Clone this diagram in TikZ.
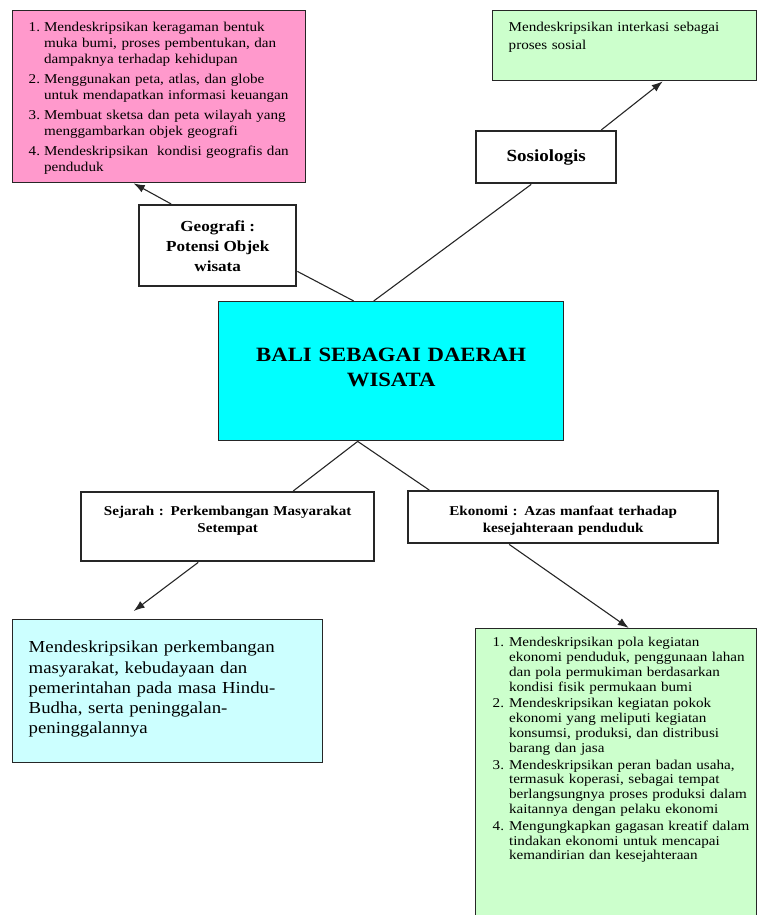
\documentclass[tikz,border=0pt]{standalone}
\usepackage{fontspec}
\setmainfont{Liberation Serif}[FakeStretch=1.12]
\usetikzlibrary{arrows.meta}
\definecolor{pinkbox}{RGB}{255,153,204}
\definecolor{greenbox}{RGB}{204,255,204}
\definecolor{cyanbox}{RGB}{0,255,255}
\definecolor{lightcyanbox}{RGB}{204,255,255}
\newcommand\txtlist{\fontsize{13.5}{14.8}\selectfont}
\newcommand\txtpink{\fontsize{13.5}{16}\selectfont}
\newcommand\txtlarge{\fontsize{16.8}{20.3}\selectfont}
\newcommand\txthead{\fontsize{13.5}{17}\selectfont\bfseries}
\newcommand\txtgeo{\fontsize{15.3}{20}\selectfont\bfseries}
\newcommand\txtsosio{\fontsize{17}{20}\selectfont\bfseries}
\newcommand\txttitle{\fontsize{20.3}{25}\selectfont\bfseries}
\tikzset{
  >={Latex[length=11pt,width=8pt]},
}
\tikzstyle{infobox}=[draw=black!85,line width=1.4pt,anchor=north west,inner ysep=0pt,align=left]
\tikzstyle{headbox}=[draw=black!85,line width=2.4pt,anchor=north west,fill=white,align=center]
\tikzstyle{link}=[line width=1.1pt,black!85]
\tikzstyle{arrow}=[link,->]

\begin{document}
\begin{tikzpicture}[x=1pt,y=-1pt]
  \useasboundingbox (0,0) rectangle (757,915);

  % centre
  \node[infobox,fill=cyanbox,align=center,inner xsep=0pt,text width=345pt,text height=60pt,text depth=79pt,font=\txttitle] (bali) at (218,301) {BALI SEBAGAI DAERAH\\WISATA};

  % headings
  \node[headbox,minimum width=157pt,minimum height=81pt,font=\txtgeo] (geo) at (138,204) {Geografi :\\Potensi Objek\\wisata};
  \node[headbox,minimum width=140pt,minimum height=52pt,font=\txtsosio] (sosio) at (475,130) {Sosiologis};
  \node[headbox,inner sep=0pt,text width=293pt,text height=23.5pt,text depth=45.5pt,font=\txthead] (sej) at (80,491) {Sejarah : Perkembangan Masyarakat\\Setempat};
  \node[headbox,inner sep=0pt,text width=310pt,text height=24pt,text depth=28pt,font=\txthead] (eko) at (407,490) {Ekonomi : Azas manfaat terhadap\\kesejahteraan penduduk};

  % competencies
  \node[infobox,fill=pinkbox,inner xsep=16pt,text width=261pt,text height=20.5pt,text depth=151.5pt,font=\txtpink] (geoinfo) at (12,10) {%
    \begin{tabular}[t]{@{}r@{\hspace{4pt}}l@{}}
      1. & Mendeskripsikan keragaman bentuk\\
         & muka bumi, proses pembentukan, dan\\
         & dampaknya terhadap kehidupan\\[4pt]
      2. & Menggunakan peta, atlas, dan globe\\
         & untuk mendapatkan informasi keuangan\\[4pt]
      3. & Membuat sketsa dan peta wilayah yang\\
         & menggambarkan objek geografi\\[4pt]
      4. & Mendeskripsikan\ \ kondisi geografis dan\\
         & penduduk
    \end{tabular}};
  \node[infobox,fill=greenbox,inner xsep=16pt,text width=232pt,text height=21pt,text depth=49pt,font=\txtlist] (sosinfo) at (492,10) {Mendeskripsikan interkasi sebagai\\[3pt]proses sosial};
  \node[infobox,fill=lightcyanbox,inner xsep=16pt,text width=278pt,text height=33pt,text depth=110pt,font=\txtlarge] (sejinfo) at (12,619) {Mendeskripsikan perkembangan\\masyarakat, kebudayaan dan\\pemerintahan pada masa Hindu-\\Budha, serta peninggalan-\\peninggalannya};
  \node[infobox,fill=greenbox,inner xsep=17pt,text width=247pt,text height=18pt,text depth=300pt,font=\txtlist] (ekoinfo) at (475,628) {%
    \begin{tabular}[t]{@{}r@{\hspace{5pt}}l@{}}
      1. & Mendeskripsikan pola kegiatan\\
         & ekonomi penduduk, penggunaan lahan\\
         & dan pola permukiman berdasarkan\\
         & kondisi fisik permukaan bumi\\[2pt]
      2. & Mendeskripsikan kegiatan pokok\\
         & ekonomi yang meliputi kegiatan\\
         & konsumsi, produksi, dan distribusi\\
         & barang dan jasa\\[2pt]
      3. & Mendeskripsikan peran badan usaha,\\
         & termasuk koperasi, sebagai tempat\\
         & berlangsungnya proses produksi dalam\\
         & kaitannya dengan pelaku ekonomi\\[2pt]
      4. & Mengungkapkan gagasan kreatif dalam\\
         & tindakan ekonomi untuk mencapai\\
         & kemandirian dan kesejahteraan
    \end{tabular}};

  % connectors
  \draw[link] ([xshift=-37.5pt]bali.north) -- ([yshift=16pt]geo.south east);
  \draw[link] ([xshift=-17.5pt]bali.north) -- ([xshift=-15pt]sosio.south);
  \draw[arrow] ([xshift=55pt]sosio.north) -- ([xshift=38pt]sosinfo.south);
  \draw[arrow] ([xshift=-46.5pt]geo.north) -- ([xshift=-25.5pt]geoinfo.south);
  \draw[link] ([xshift=-33.5pt]bali.south) -- ([xshift=65.5pt]sej.north);
  \draw[link] ([xshift=-33.5pt]bali.south) -- ([xshift=-134pt]eko.north);
  \draw[arrow] ([xshift=-29.5pt]sej.south) -- ([xshift=-34pt,yshift=8pt]sejinfo.north);
  \draw[arrow] ([xshift=-54pt]eko.south) -- ([xshift=12.5pt]ekoinfo.north);
\end{tikzpicture}
\end{document}
